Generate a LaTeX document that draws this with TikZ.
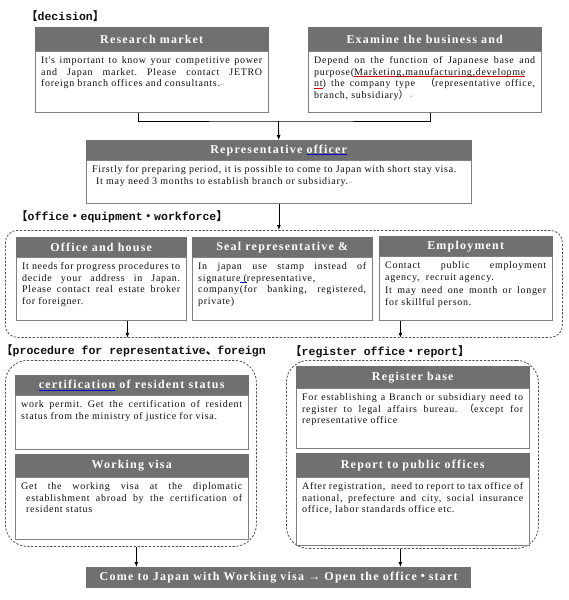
\documentclass[tikz,border=0pt]{standalone}
\usepackage{fontspec}
\setmainfont{Liberation Serif}
\newfontfamily\cjk{Noto Sans CJK JP}
\newfontfamily\lblfont{Liberation Mono}
\newfontfamily\symfont{DejaVu Sans}
\newfontfamily\bodyfont[LetterSpace=7]{Liberation Serif}
\newfontfamily\hdrfont[LetterSpace=10]{Liberation Serif}
\usetikzlibrary{arrows.meta}
\definecolor{hdrgray}{HTML}{707070}
\definecolor{framegray}{HTML}{808080}
\definecolor{grpgray}{HTML}{505050}
\definecolor{textc}{HTML}{101010}
\newsavebox\ulbox
\newcommand\colul[2]{\leavevmode\sbox\ulbox{#2}\rlap{\textcolor{#1}{\rule[-1.7pt]{\wd\ulbox}{0.7pt}}}\usebox\ulbox}
\newcommand\blueul[1]{\colul{blue!85!black}{#1}}
\newcommand\redul[1]{\colul{red!85!black}{#1}}
\newcommand\retmark{{\symfont\fontsize{5}{5}\selectfont\color{gray!60}\,↵}}
\newcommand\lbr{{\cjk 【}}
\newcommand\rbr{{\cjk 】}}
\newcommand\dotc{{\cjk ・}}
\tikzset{
  hdr/.style={fill=hdrgray, draw=hdrgray, text=white, font=\hdrfont\bfseries\fontsize{12}{13}\selectfont, inner sep=0pt, anchor=north west},
  frame/.style={draw=framegray, fill=white, line width=0.8pt, inner sep=0pt, anchor=north west},
  txt/.style={font=\bodyfont\fontsize{10}{11.6}\selectfont\frenchspacing, align=justify, inner sep=0pt, anchor=north west, text=textc},
  grp/.style={draw=grpgray, dash pattern=on 2.2pt off 1.6pt, line width=0.8pt, inner sep=0pt, anchor=north west},
  lbl/.style={font=\lblfont\bfseries\fontsize{11.5}{12}\selectfont, anchor=west, inner sep=0pt, text=textc},
  arr/.style={-{Latex[length=5pt,width=4pt]}, line width=0.8pt},
  con/.style={line width=0.8pt},
  finalbox/.style={fill=hdrgray, text=white, font=\hdrfont\bfseries\fontsize{12}{13}\selectfont, inner sep=0pt, anchor=north west}
}
% name, x1, ytop, x2, yhdrbottom, ybottom, title, text
\newcommand\mkbox[8]{%
  \pgfmathsetmacro\bw{#4-#2}\pgfmathsetmacro\hh{#5-#3}\pgfmathsetmacro\bh{#6-#5}\pgfmathsetmacro\tw{#4-#2-12}%
  \node[hdr, minimum width=\bw pt, minimum height=\hh pt] (#1h) at (#2,#3) {#7};
  \node[frame, minimum width=\bw pt, minimum height=\bh pt] (#1b) at (#2,#5) {};
  \node[txt, text width=\tw pt] (#1t) at ([xshift=6pt,yshift=-5.5pt]#1b.north west) {#8};
}
\begin{document}
\begin{tikzpicture}[x=1pt,y=-1pt]
\useasboundingbox[fill=white] (0,0) rectangle (568,600);

% section labels
\node[lbl] (l1) at (26,16) {\lbr decision\rbr};
\node[lbl] (l2) at (16,217) {\lbr office\dotc equipment\dotc workforce\rbr};
\node[lbl] (l3) at (1,351) {\lbr procedure for representative{\cjk 、}foreign};
\node[lbl] (l4) at (290,352) {\lbr register office\dotc report\rbr};

% dashed groups
\node[grp, rounded corners=12pt, minimum width=557pt, minimum height=107pt] (g1) at (5,230) {};
\node[grp, rounded corners=22pt, minimum width=251pt, minimum height=186pt] (g2l) at (5,360) {};
\node[grp, rounded corners=22pt, minimum width=252pt, minimum height=188pt] (g2r) at (286,360) {};

% decision boxes
\mkbox{rm}{35}{27}{268}{51}{112}{Research market}{It's important to know your competitive power\linebreak and Japan market. Please contact JETRO\linebreak foreign branch offices and consultants.\retmark}
\mkbox{ex}{308}{27}{541}{51}{112}{Examine the business and}{Depend on the function of Japanese base and\linebreak purpose(\redul{Marketing,manufacturing,developme}\linebreak \redul{nt})\ the company type\ \ {\cjk （}representative office,\linebreak branch, subsidiary{\cjk ）}\retmark}

\mkbox{rep}{86}{140}{471}{160}{203}{Representative \blueul{officer}}{\raggedright\mbox{Firstly for preparing period, it is possible to come to Japan with short stay visa.}\\\hspace*{4pt}It may need 3 months to establish branch or subsidiary.\retmark}

% office / equipment / workforce
\mkbox{of}{16}{237}{186}{257}{320}{Office and house}{It needs for progress procedures to\linebreak decide your address in Japan.\linebreak Please contact real estate broker\linebreak for foreigner.}
\mkbox{se}{192}{237}{372}{257}{320}{Seal representative \&}{In japan use stamp instead of\linebreak signature\blueul{\ (}representative,\\ company(for banking, registered,\linebreak private)}
\mkbox{em}{379}{236}{552}{256}{320}{Employment}{Contact public employment\linebreak agency,\ \ recruit agency.\\[2pt] It may need one month or longer\linebreak for skillful person.}

% procedure
\mkbox{ce}{15}{375}{248}{395}{449}{\blueul{certification} of resident status}{work permit. Get the certification of resident\linebreak status from the ministry of justice for visa.}
\mkbox{wv}{15}{454}{248}{477}{539}{Working visa}{Get the working visa at the diplomatic\linebreak \hspace*{5pt}establishment abroad by the certification of\linebreak \hspace*{5pt}resident status}

% register
\mkbox{rb}{296}{366}{529}{388}{448}{Register base}{For establishing a Branch or subsidiary need to\linebreak register to legal affairs bureau.\ {\cjk （}except for\linebreak representative office}
\mkbox{rp}{296}{453}{529}{477}{545}{Report to public offices}{After registration,\ \ need to report to tax office of\linebreak national, prefecture and city, social insurance\linebreak office, labor standards office etc.}

% final
\node[finalbox, minimum width=385pt, minimum height=21pt] (fin) at (86,567) {Come to Japan with Working visa → Open the office\dotc start};

% connectors
\coordinate (j) at (278.5,121);
\draw[con] ([xshift=-14pt]rmb.south) |- (j) -| ([xshift=5.5pt]exb.south);
\draw[arr] (j) -- (reph.north);
\draw[arr] (repb.south) -- (repb.south |- g1.north);
\draw[arr] ([xshift=26pt]ofb.south) -- ([xshift=26pt]ofb.south |- g1.south);
\draw[arr] ([xshift=-65.5pt]emb.south) -- ([xshift=-65.5pt]emb.south |- g1.south);
\draw[arr] ([xshift=5.5pt]g2l.south) -- ([xshift=5.5pt]g2l.south |- fin.north);
\draw[arr] ([xshift=-12pt]g2r.south) -- ([xshift=-12pt]g2r.south |- fin.north);
\end{tikzpicture}
\end{document}
